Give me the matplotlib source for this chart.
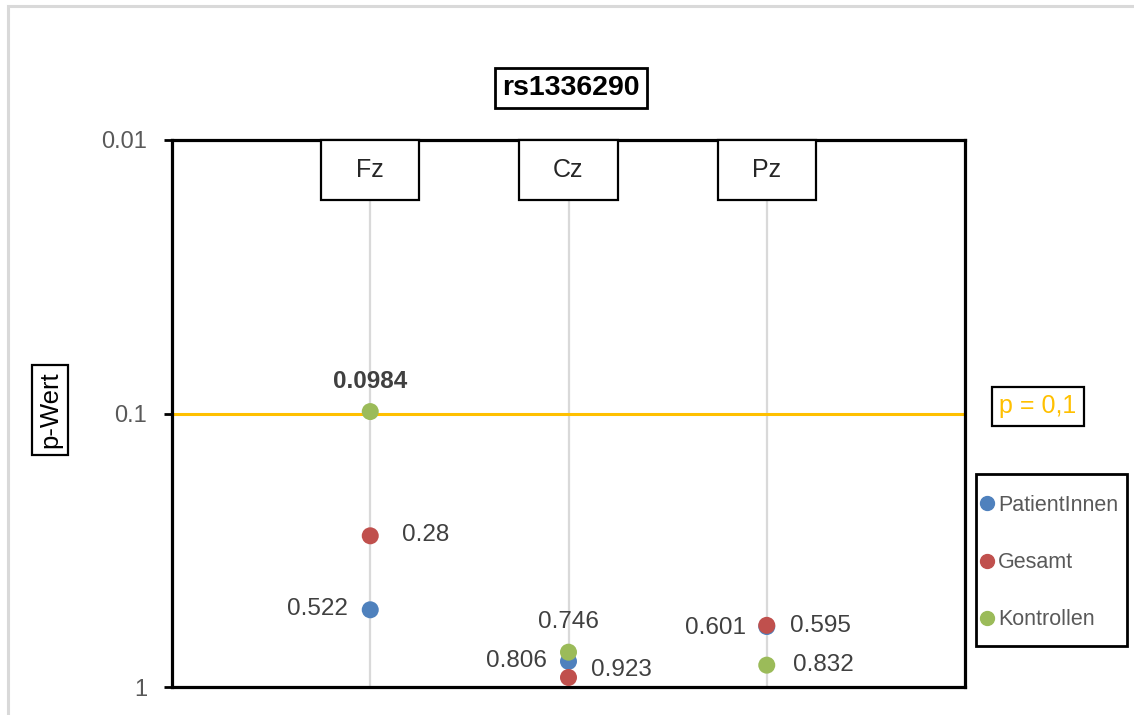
import numpy as np
import matplotlib.pyplot as plt
from matplotlib.lines import Line2D
from matplotlib.patches import Rectangle
import matplotlib.transforms as mtransforms

plt.rcParams['font.family'] = ['Liberation Sans', 'DejaVu Sans']

# electrode sites and p-values per group
electrodes = ['Fz', 'Cz', 'Pz']
p_patients = [0.522, 0.806, 0.601]
p_total = [0.28, 0.923, 0.595]
p_controls = [0.0984, 0.746, 0.832]
threshold = 0.1

y_ticks = [0.01, 0.1, 1]
y_ticklabels = ['0.01', '0.1', '1']

c_pat = '#4F81BD'
c_tot = '#C0504D'
c_con = '#9BBB59'
c_thr = '#FFC000'
txt_dark = '#404040'
txt_gray = '#595959'

W, H = 1134, 715
fig = plt.figure(figsize=(W / 100, H / 100), dpi=100)
ax = fig.add_axes([172 / W, 1 - 687 / H, (965 - 172) / W, (687 - 140) / H])

# light outer chart frame
fig.patches.append(Rectangle((8 / W, -0.1), 1.2, 1 - 6 / H + 0.1,
                             transform=fig.transFigure, fill=False,
                             edgecolor='#D9D9D9', linewidth=2.2, zorder=0))

x = np.arange(1, len(electrodes) + 1)

ax.set_yscale('log')
ax.set_ylim(1, 0.01)
ax.set_xlim(0, len(electrodes) + 1)

# vertical guide lines at each site
for xi in x:
    ax.axvline(xi, color='#D9D9D9', linewidth=1.6, zorder=1)

ax.axhline(threshold, color=c_thr, linewidth=2.2, zorder=2)

ax.scatter(x, p_patients, s=150, color=c_pat, zorder=4, edgecolors='none')
ax.scatter(x, p_total, s=150, color=c_tot, zorder=4, edgecolors='none')
ax.scatter(x, p_controls, s=150, color=c_con, zorder=5, edgecolors='none')

# value labels: (x, value, dx px, dy px, ha, bold)
label_specs = [
    (x[0], p_controls[0], 0, 30, 'center', True),
    (x[0], p_total[0], 32, 1, 'left', False),
    (x[0], p_patients[0], -22, 1, 'right', False),
    (x[1], p_controls[1], 0, 30, 'center', False),
    (x[1], p_patients[1], -22, 0, 'right', False),
    (x[1], p_total[1], 23, 7, 'left', False),
    (x[2], p_patients[2], -21, -1, 'right', False),
    (x[2], p_total[2], 23, -1, 'left', False),
    (x[2], p_controls[2], 26, 0, 'left', False),
]
for xi, val, dx, dy, ha, bold in label_specs:
    ax.annotate(f'{val:g}', (xi, val), xytext=(dx * 0.72, dy * 0.72),
                textcoords='offset points', ha=ha, va='center',
                fontsize=17.5, color=txt_dark,
                fontweight='bold' if bold else 'normal', zorder=6)

# site name boxes hanging from the top edge
trans = mtransforms.blended_transform_factory(ax.transData, ax.transAxes)
box_w = 0.496
box_h = 60 / 547
for xi, name in zip(x, electrodes):
    ax.add_patch(Rectangle((xi - box_w / 2, 1 - box_h), box_w, box_h,
                           transform=trans, facecolor='white', edgecolor='black',
                           linewidth=1.6, zorder=7, clip_on=False))
    ax.text(xi, 1 - box_h / 2, name, transform=trans, ha='center', va='center',
            fontsize=18, color='#262626', zorder=8)

ax.set_yticks(y_ticks)
ax.set_yticklabels(y_ticklabels)
ax.yaxis.set_minor_locator(plt.NullLocator())
ax.tick_params(axis='y', which='major', length=6, width=2, direction='out',
               labelsize=17, labelcolor=txt_gray, pad=12)
ax.set_xticks([])
for side in ax.spines.values():
    side.set_linewidth(2.3)
    side.set_color('black')

# title and axis label, each in a square frame
fig.text(571 / W, 1 - 88 / H, 'rs1336290', ha='center', va='center',
         fontsize=20.5, fontweight='bold', color='black',
         bbox=dict(boxstyle='square,pad=0.25', facecolor='white',
                   edgecolor='black', linewidth=2))
fig.text(50 / W, 1 - 410 / H, 'p-Wert', ha='center', va='center',
         rotation=90, fontsize=18.5, color='black',
         bbox=dict(boxstyle='square,pad=0.25', facecolor='white',
                   edgecolor='black', linewidth=1.6))

fig.text(1038 / W, 1 - 406 / H, 'p = 0,1', ha='center', va='center',
         fontsize=18, color=c_thr,
         bbox=dict(boxstyle='square,pad=0.3', facecolor='white',
                   edgecolor='black', linewidth=1.6))

# legend with its own frame box
fig.patches.append(Rectangle((976 / W, 1 - 646 / H), (1127 - 976) / W, (646 - 474) / H,
                             transform=fig.transFigure, facecolor='white',
                             edgecolor='black', linewidth=2, zorder=1))
handles = [
    Line2D([0], [0], marker='o', linestyle='none', color=c_pat, markersize=10, label='PatientInnen'),
    Line2D([0], [0], marker='o', linestyle='none', color=c_tot, markersize=10, label='Gesamt'),
    Line2D([0], [0], marker='o', linestyle='none', color=c_con, markersize=10, label='Kontrollen'),
]
leg = fig.legend(handles=handles, loc='upper left',
                 bbox_to_anchor=(981 / W, 1 - 495 / H),
                 frameon=False, fontsize=15.5, handlelength=0.6,
                 handletextpad=0.2, labelspacing=1.68, borderpad=0,
                 borderaxespad=0, labelcolor=txt_gray)
leg.set_zorder(2)

fig.savefig('out.png', dpi=100)
